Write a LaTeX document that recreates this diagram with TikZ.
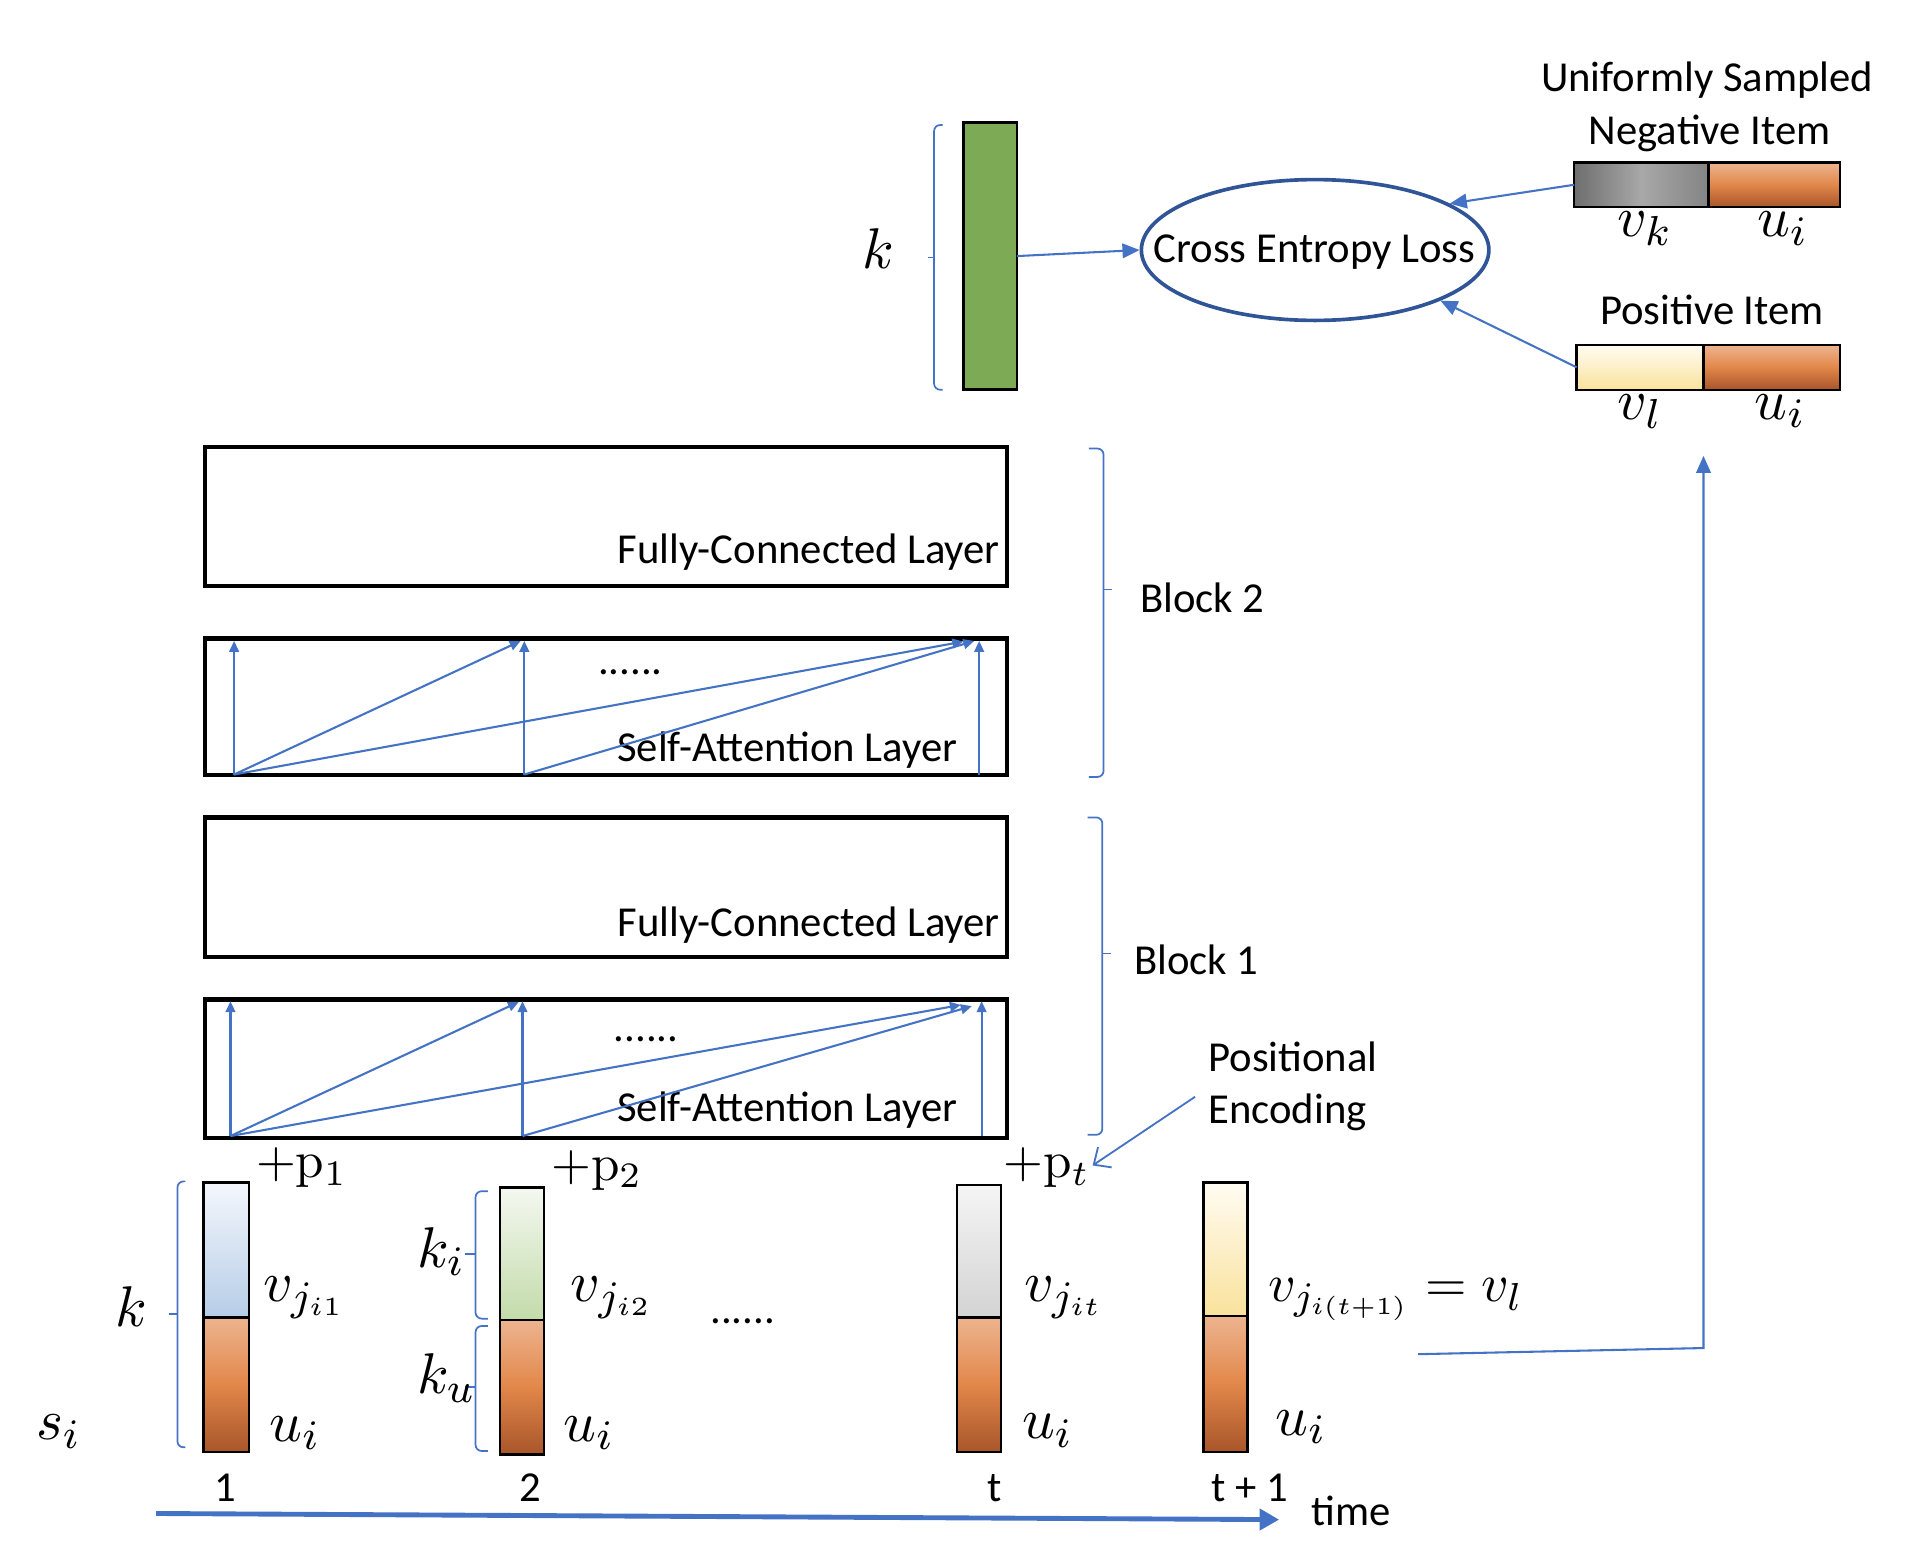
\documentclass[tikz,border=0pt]{standalone}
\usepackage{fontspec}
\newfontfamily\calibri{Carlito}
\usetikzlibrary{arrows.meta,shapes.geometric}
\definecolor{lblue}{HTML}{4472C4}
\definecolor{dblue}{HTML}{2F5597}
\definecolor{gbar}{HTML}{7DAA55}
\definecolor{orT}{HTML}{EDB48F}
\definecolor{orM}{HTML}{E2874A}
\definecolor{orB}{HTML}{A8552A}
\definecolor{bluT}{HTML}{F4F7FC}
\definecolor{bluB}{HTML}{B6CDE7}
\definecolor{grnT}{HTML}{F4F8F0}
\definecolor{grnB}{HTML}{C3DBAA}
\definecolor{gryT}{HTML}{F5F5F5}
\definecolor{gryB}{HTML}{D3D3D3}
\definecolor{yelT}{HTML}{FFFCF2}
\definecolor{yelB}{HTML}{FAE29C}
\definecolor{ngD}{HTML}{6E6E6E}
\definecolor{ngL}{HTML}{A8A8A8}
\tikzset{
  txt/.style={font=\calibri\fontsize{35}{42}\selectfont, inner sep=0pt, outer sep=0pt},
  mth/.style={font=\fontsize{11}{13}\selectfont, scale=4.3, inner sep=0pt, outer sep=0pt},
  pls/.style={font=\fontsize{10}{12}\selectfont, scale=4.2, inner sep=0pt, outer sep=0pt},
  barbox/.style={draw=black, line width=2pt, inner sep=0pt, outer sep=0pt, anchor=north west},
  orshade/.style={top color=orT, bottom color=orB, middle color=orM},
  layerbox/.style={draw=black, line width=3.5pt, inner sep=0pt, outer sep=0pt, anchor=north west, minimum width=658pt},
  conn/.style={draw=lblue, line width=1.7pt, -{Triangle[length=14pt,width=12pt]}},
  att/.style={draw=lblue, line width=1.7pt, -{Triangle[length=9pt,width=8pt]}},
  brk/.style={draw=lblue, line width=1.4pt, rounded corners=5pt},
}
\begin{document}
\begin{tikzpicture}[x=1pt,y=-1.005pt]
\useasboundingbox (0,0) rectangle (1568,1271.3);

% ---------- top: output, loss, items ----------
\node[barbox, fill=gbar, minimum width=44pt, minimum height=219pt] (gb) at (790,100) {};
\draw[brk] (773,102) -- (766,102) -- (766,318) -- (773,318);
\draw[brk] (766,210) -- (761,210);
\node[mth, anchor=base] (klab1) at (720,219) {$k$};

\node[ellipse, draw=dblue, line width=3pt, minimum width=285pt, minimum height=115.5pt, inner sep=0pt] (cel) at (1078.5,204) {};
\node[txt, anchor=base] (celt) at (1078,214) {Cross Entropy Loss};

\node[txt, anchor=base] (us) at (1400,75) {Uniformly Sampled};
\node[txt, anchor=base] (ni) at (1402,118) {Negative Item};
\node[barbox, left color=ngD, right color=ngD!85!white, middle color=ngL, minimum width=110pt, minimum height=36.7pt] (ngv) at (1291,132.5) {};
\node[barbox, orshade, minimum width=108pt, minimum height=36.7pt] (ngu) at (1401,132.5) {};
\node[mth, anchor=base] (vk) at (1349,193) {$v_k$};
\node[mth, anchor=base] (ui1t) at (1462,193) {$u_i$};

\node[txt, anchor=base] (pi) at (1404,265) {Positive Item};
\node[barbox, top color=yelT, bottom color=yelB, minimum width=104pt, minimum height=36.7pt] (psv) at (1293,281.5) {};
\node[barbox, orshade, minimum width=112pt, minimum height=36.7pt] (psu) at (1397,281.5) {};
\node[mth, anchor=base] (vl) at (1345,342) {$v_l$};
\node[mth, anchor=base] (ui2t) at (1460,342) {$u_i$};

\draw[conn] (gb.east) -- (cel.west);
\draw[conn] (ngv.west) -- (cel.19);
\draw[conn] (psv.west) -- (cel.338);

% ---------- block 2 ----------
\node[layerbox, minimum height=113.5pt] (fc2) at (168,365) {};
\node[txt, anchor=base east] (fc2t) at (820,460) {Fully-Connected Layer};
\node[layerbox, minimum height=112pt] (sa2) at (168,521) {};
\node[txt, anchor=base east] (sa2t) at (785,621) {Self-Attention Layer};
\node[txt, anchor=base] (dots2) at (517,550) {......};
\coordinate (b2a) at (192,632);
\coordinate (b2b) at (430,632);
\coordinate (b2c) at (803,632);
\coordinate (t2a) at (192,523);
\coordinate (t2b) at (430,523);
\coordinate (t2c) at (803,523);
\coordinate (t2d) at (427,523);
\coordinate (t2e) at (790,523.5);
\coordinate (t2f) at (799,523);
\draw[att] (b2a) -- (t2a);
\draw[att] (b2b) -- (t2b);
\draw[att] (b2c) -- (t2c);
\draw[att] (b2a) -- (t2d);
\draw[att] (b2a) -- (t2e);
\draw[att] (b2b) -- (t2f);
\draw[brk] (893,366) -- (905,366) -- (905,634) -- (893,634);
\draw[brk] (905,481) -- (912,481);
\node[txt, anchor=base west] (blk2) at (935,500) {Block 2};

% ---------- block 1 ----------
\node[layerbox, minimum height=114.5pt] (fc1) at (168,667) {};
\node[txt, anchor=base east] (fc1t) at (820,764) {Fully-Connected Layer};
\node[layerbox, minimum height=113.5pt] (sa1) at (168,815.5) {};
\node[txt, anchor=base east] (sa1t) at (785,915) {Self-Attention Layer};
\node[txt, anchor=base] (dots1) at (530,850) {......};
\coordinate (b1a) at (189,927);
\coordinate (b1b) at (428.5,927);
\coordinate (b1c) at (805,927);
\coordinate (t1a) at (189,817);
\coordinate (t1b) at (428.5,817);
\coordinate (t1c) at (805,817);
\coordinate (t1d) at (425.5,817.5);
\coordinate (t1e) at (788,820);
\coordinate (t1f) at (797,821);
\draw[att] (b1a) -- (t1a);
\draw[att] (b1b) -- (t1b);
\draw[att] (b1c) -- (t1c);
\draw[att] (b1a) -- (t1d);
\draw[att] (b1a) -- (t1e);
\draw[att] (b1b) -- (t1f);
\draw[brk] (892,667) -- (904,667) -- (904,926) -- (892,926);
\draw[brk] (904,778) -- (911,778);
\node[txt, anchor=base west] (blk1) at (930,795) {Block 1};

% ---------- positional encoding ----------
\node[txt, anchor=base west] (pos) at (991,874) {Positional};
\node[txt, anchor=base west] (enc) at (991,917) {Encoding};
\node[pls, anchor=base west] (p1) at (210,961) {$+\mathrm{p}_1$};
\node[pls, anchor=base west] (p2) at (452,963) {$+\mathrm{p}_2$};
\node[pls, anchor=base west] (pt) at (823,961) {$+\mathrm{p}_t$};
\coordinate (pes) at (980,895);
\coordinate (pee) at (896,951);
\draw[draw=lblue, line width=1.5pt, -{Straight Barb[length=11pt,width=20pt]}] (pes) -- (pee);

% ---------- input columns ----------
\node[barbox, top color=bluT, bottom color=bluB, minimum width=37pt, minimum height=110.5pt] (c1v) at (167,965) {};
\node[barbox, orshade, minimum width=37pt, minimum height=110.5pt] (c1u) at (167,1075) {};
\node[barbox, top color=grnT, bottom color=grnB, minimum width=36pt, minimum height=108.5pt] (c2v) at (410,969) {};
\node[barbox, orshade, minimum width=36pt, minimum height=110.5pt] (c2u) at (410,1077) {};
\node[barbox, top color=gryT, bottom color=gryB, minimum width=36pt, minimum height=108.5pt] (ctv) at (785,967) {};
\node[barbox, orshade, minimum width=36pt, minimum height=110.5pt] (ctu) at (785,1075) {};
\node[barbox, top color=yelT, bottom color=yelB, minimum width=36pt, minimum height=109.5pt] (cnv) at (987,965) {};
\node[barbox, orshade, minimum width=36pt, minimum height=111.5pt] (cnu) at (987,1074) {};

\draw[brk] (152,964) -- (145.5,964) -- (145.5,1181) -- (152,1181);
\draw[brk] (145.5,1072) -- (139,1072);
\draw[brk] (400,972) -- (390,972) -- (390,1076) -- (400,1076);
\draw[brk] (390,1023) -- (381,1023);
\draw[brk] (400,1082) -- (390,1082) -- (390,1184) -- (400,1184);
\draw[brk] (390,1132) -- (381,1132);

\node[mth, anchor=base] (klab2) at (108,1082) {$k$};
\node[mth, anchor=base] (si) at (48,1175) {$s_i$};
\node[mth, anchor=base] (ki) at (362,1034) {$k_i$};
\node[mth, anchor=base] (ku) at (366,1137) {$k_u$};
\node[mth, anchor=base west] (vj1) at (216,1062) {$v_{j_{i1}}$};
\node[mth, anchor=base] (u1) at (242,1176) {$u_i$};
\node[mth, anchor=base west] (vj2) at (468,1062) {$v_{j_{i2}}$};
\node[mth, anchor=base] (u2) at (483,1176) {$u_i$};
\node[txt, anchor=base] (dots3) at (609,1080) {......};
\node[mth, anchor=base west] (vjt) at (840,1062) {$v_{j_{it}}$};
\node[mth, anchor=base] (ut) at (859,1174) {$u_i$};
\node[mth, scale=4.0/4.3, anchor=base west] (vjn) at (1040,1062) {$v_{j_{i(t+1)}} = v_l$};
\node[mth, anchor=base] (un) at (1067,1171) {$u_i$};

\node[txt, anchor=base] (n1) at (185,1225) {1};
\node[txt, anchor=base] (n2) at (435,1225) {2};
\node[txt, anchor=base] (nt) at (816,1225) {t};
\node[txt, anchor=base] (nt1) at (1025,1225) {t + 1};
\node[txt, anchor=base] (time) at (1108,1245) {time};

\coordinate (ts) at (128,1235);
\coordinate (te) at (1049,1240);
\draw[draw=lblue, line width=4pt, -{Triangle[length=16pt,width=17pt]}] (ts) -- (te);

% ---------- link from target to positive item ----------
\coordinate (vlend) at (1163,1105);
\coordinate (upc) at (1397,1100);
\coordinate (uptip) at (1397,372);
\draw[conn] (vlend) -- (upc) -- (uptip);
\end{tikzpicture}
\end{document}
